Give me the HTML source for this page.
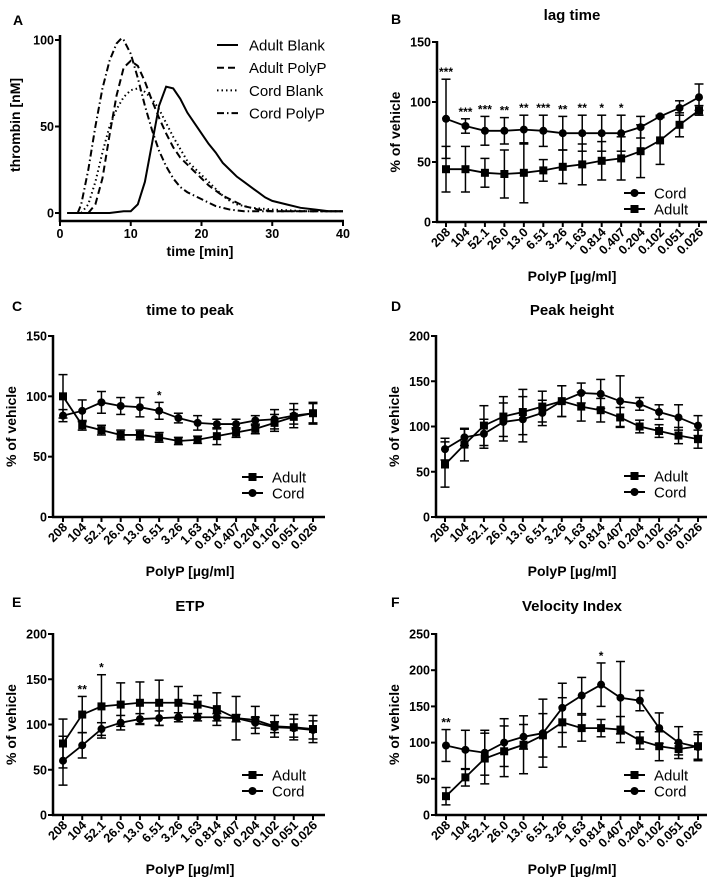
<!DOCTYPE html>
<html><head><meta charset="utf-8"><style>
html,body{margin:0;padding:0;background:#fff;}
svg{display:block;font-family:"Liberation Sans",Arial,sans-serif;}
text{font-weight:bold;fill:#000;}
</style></head><body>
<svg id="fig" width="714" height="886" viewBox="0 0 714 886"></svg>
<script>
const NS="http://www.w3.org/2000/svg";
const svg=document.getElementById('fig');
// shared categories
const categories=["208","104","52.1","26.0","13.0","6.51","3.26","1.63","0.814","0.407","0.204","0.102","0.051","0.026"];
// Panel A curves
const aTicksX=[0,10,20,30,40];
const aTicksY=[0,50,100];
const adultBlankT=[1,3,5,7,9,10,11,12,13,14,15,16,17,18,19,20,21,22,23,24,25,26,27,28,29,30,32,34,36,38,40];
const adultBlankV=[0,0,0,0,1,1,5,18,40,62,73,72,66,58,52,46,40,35,29,25,21,18,15,12,9,7,5,3,2,1,1];
const adultPolyPT=[4,5,6,7,8,9,10,11,12,13,14,15,16,17,18,19,20,21,22,23,24,25,26,28,30,35,40];
const adultPolyPV=[0,5,20,45,68,84,88,85,76,65,55,46,38,32,28,24,20,16,13,10,8,6,4,2,1,1,1];
const cordBlankT=[3,4,5,6,7,8,9,10,11,12,13,14,15,16,17,18,19,20,21,22,23,24,25,27,30,35,40];
const cordBlankV=[0,5,18,35,50,60,67,71,72,70,66,60,52,44,37,30,26,22,18,14,10,7,5,3,2,1,1];
const cordPolyPT=[2.5,3,4,5,6,7,8,8.7,9,10,11,12,13,14,15,16,17,18,19,20,21,22,24,26,30,40];
const cordPolyPV=[0,5,25,50,72,88,98,101,100,92,78,62,48,36,27,20,15,12,10,8,6,4,2,1,1,1];
// Panel B lag time
const bCord=[86,80,76,76,77,76,74,74,74,74,79,88,95,104];
const bCordErr=[33,6,12,11,12,13,14,15,15,15,9,1,6,11];
const bAdult=[44,44,41,40,41,43,46,48,51,53,59,68,81,93];
const bAdultErr=[19,19,12,20,25,9,14,17,16,18,22,20,10,4];
const bStars=["***","***","***","**","**","***","**","**","*","*","","","",""];
// Panel C time to peak
const cAdult=[100,76,72,68,68,66,63,64,67,70,73,78,83,86];
const cAdultErr=[18,4,4,4,4,4,3,3,7,4,4,7,6,9];
const cCord=[84,88,95,92,91,88,82,78,77,77,80,81,84,86];
const cCordErr=[5,9,9,7,8,7,4,6,4,4,4,8,10,8];
const cStars=["","","","","","*","","","","","","","",""];
// Panel D peak height
const dAdult=[58,80,101,111,116,122,128,122,118,110,100,95,90,86];
const dAdultErr=[25,18,22,22,25,17,17,16,13,11,7,7,9,10];
const dCord=[75,88,92,105,108,115,128,137,136,128,125,116,110,101];
const dCordErr=[12,9,16,21,25,14,17,11,16,28,7,8,14,11];
// Panel E ETP
const eAdult=[79,111,120,122,124,124,124,122,117,107,105,98,97,95];
const eAdultErr=[27,20,35,24,23,25,18,10,18,24,15,12,14,15];
const eCord=[60,77,95,102,106,107,108,108,108,107,102,97,96,94];
const eCordErr=[27,14,7,8,6,8,5,4,4,4,6,6,10,10];
const eStars=["","**","*","","","","","","","","","","",""];
// Panel F velocity index
const fAdult=[26,52,78,88,97,110,128,120,120,118,103,95,91,95];
const fAdultErr=[12,12,35,35,40,30,34,18,12,18,12,20,8,20];
const fCord=[96,90,86,100,108,113,148,165,180,162,158,120,100,94];
const fCordErr=[22,27,31,33,17,47,34,25,30,50,14,21,22,17];
const fStars=["**","","","","","","","","*","","","","",""];

function el(tag,attrs,parent){const e=document.createElementNS(NS,tag);for(const k in attrs)e.setAttribute(k,attrs[k]);(parent||svg).appendChild(e);return e;}
function txt(s,attrs,parent){const e=el('text',attrs,parent);e.textContent=s;return e;}

function marker(g,type,x,y){
  if(type==='circle')return el('circle',{cx:x,cy:y,r:4,fill:'#000'},g);
  return el('rect',{x:x-4,y:y-4,width:8,height:8,fill:'#000'},g);
}

function panel(o){
  const g=el('g',{});
  
  
  const yS=v=>o.y0-(v/o.ymax)*(o.y0-o.yTop);
  const xS=i=>o.x0+i*(o.x1-o.x0)/(categories.length-1);
  const lt=txt(o.letter,{x:o.letterX,y:o.letterY,'font-size':14},g);
  
  const tt=txt(o.title,{x:o.titleX,y:o.titleY,'font-size':15,'text-anchor':'middle'},g);
  
  const ya=el('line',{x1:o.ax,y1:o.yTop-1,x2:o.ax,y2:o.y0+1,stroke:'#000','stroke-width':2.5},g);
  
  const xa=el('line',{x1:o.ax-1,y1:o.y0,x2:o.axEnd,y2:o.y0,stroke:'#000','stroke-width':2.5},g);
  
  o.yticks.forEach(v=>{
    el('line',{x1:o.ax-5,y1:yS(v),x2:o.ax,y2:yS(v),stroke:'#000','stroke-width':2},g);
    const t=txt(String(v),{x:o.ax-6,y:yS(v)+4.5,'font-size':12.5,'text-anchor':'end'},g);
    
  });
  categories.forEach((c,i)=>{
    const x=xS(i);
    el('line',{x1:x,y1:o.y0,x2:x,y2:o.y0+5,stroke:'#000','stroke-width':2},g);
    const t=txt(c,{x:0,y:0,'font-size':12.5,'text-anchor':'end',transform:`translate(${x+5},${o.y0+11}) rotate(-45)`},g);
    
  });
  const xt=txt('PolyP [µg/ml]',{x:o.titleX,y:o.y0+59,'font-size':14,'text-anchor':'middle'},g);
  
  const yc=(o.yTop+o.y0)/2;
  const yt=txt('% of vehicle',{x:0,y:0,'font-size':14,'text-anchor':'middle',transform:`translate(${o.ax-37},${yc}) rotate(-90)`},g);
  
  o.series.forEach(s=>{
    const sg=el('g',{},g);
    
    
    el('polyline',{points:s.vals.map((v,i)=>xS(i)+','+yS(v)).join(' '),fill:'none',stroke:'#000','stroke-width':1.8},sg);
    s.vals.forEach((v,i)=>{
      const x=xS(i),e=s.err[i];
      el('line',{x1:x,y1:yS(v+e),x2:x,y2:yS(v-e),stroke:'#000','stroke-width':1.5},sg);
      el('line',{x1:x-4.5,y1:yS(v+e),x2:x+4.5,y2:yS(v+e),stroke:'#000','stroke-width':1.5},sg);
      el('line',{x1:x-4.5,y1:yS(v-e),x2:x+4.5,y2:yS(v-e),stroke:'#000','stroke-width':1.5},sg);
      const m=marker(sg,s.marker,x,yS(v));
      
      
    });
  });
  if(o.stars){o.stars.forEach((s,i)=>{if(!s)return;
    const top=Math.max(...o.series.map(se=>se.vals[i]+se.err[i]));
    const t=txt(s,{x:xS(i),y:yS(top)-3,'font-size':12,'text-anchor':'middle'},g);
    
  });}
  o.series.forEach((s,k)=>{
    const ly=o.legY+k*16;
    const lg=el('g',{},g);
    
    
    el('line',{x1:o.legX,y1:ly,x2:o.legX+21,y2:ly,stroke:'#000','stroke-width':2},lg);
    marker(lg,s.marker,o.legX+10.5,ly);
    txt(s.label,{x:o.legX+30,y:ly+5.5,'font-size':15,style:'font-weight:normal'},lg);
  });
}

// Panel A
(function(){
  const g=el('g',{});
  
  
  const X0=60,X1=343,Y0=213,Y100=40;
  const xS=t=>X0+t/40*(X1-X0);
  const yS=v=>Y0-v/100*(Y0-Y100);
  txt('A',{x:13,y:25,'font-size':14},g);
  el('line',{x1:X0,y1:35,x2:X0,y2:222,stroke:'#000','stroke-width':2.5},g);
  el('line',{x1:X0-1,y1:221,x2:X1+1,y2:221,stroke:'#000','stroke-width':2.5},g);
  aTicksY.forEach(v=>{el('line',{x1:X0-5,y1:yS(v),x2:X0,y2:yS(v),stroke:'#000','stroke-width':2},g);
    const t=txt(String(v),{x:X0-6,y:yS(v)+4.5,'font-size':12.5,'text-anchor':'end'},g);
    });
  aTicksX.forEach(v=>{el('line',{x1:xS(v),y1:221,x2:xS(v),y2:226,stroke:'#000','stroke-width':2},g);
    const t=txt(String(v),{x:xS(v),y:238,'font-size':12.5,'text-anchor':'middle'},g);
    });
  const xt=txt('time [min]',{x:200,y:256,'font-size':14,'text-anchor':'middle'},g);
  
  const yt=txt('thrombin [nM]',{x:0,y:0,'font-size':14,'text-anchor':'middle',transform:'translate(20,125) rotate(-90)'},g);
  
  const curves=[
    ['Adult Blank',adultBlankT,adultBlankV,''],
    ['Adult PolyP',adultPolyPT,adultPolyPV,'7 4'],
    ['Cord Blank',cordBlankT,cordBlankV,'1.5 3'],
    ['Cord PolyP',cordPolyPT,cordPolyPV,'7 3 1.5 3']];
  curves.forEach((c,k)=>{
    const p=el('polyline',{points:c[1].map((t,i)=>xS(t)+','+yS(c[2][i])).join(' '),fill:'none',stroke:'#000','stroke-width':2,'stroke-dasharray':c[3]},g);
    
    
    const ly=45+k*22.7;
    const lg=el('g',{},g);
    
    
    el('line',{x1:217,y1:ly,x2:238,y2:ly,stroke:'#000','stroke-width':2,'stroke-dasharray':c[3]},lg);
    txt(c[0],{x:249,y:ly+5.5,'font-size':15,style:'font-weight:normal'},lg);
  });
})();

panel({name:'panel-b-lag-time',letter:'B',letterX:391,letterY:24,title:'lag time',titleX:572,titleY:20,
  ax:437,axEnd:707,x0:446,x1:699,y0:222,yTop:42,ymax:150,yticks:[0,50,100,150],
  series:[{label:'Cord',vals:bCord,err:bCordErr,marker:'circle'},{label:'Adult',vals:bAdult,err:bAdultErr,marker:'square'}],
  stars:bStars,legX:624,legY:193});
panel({name:'panel-c-time-to-peak',letter:'C',letterX:12,letterY:311,title:'time to peak',titleX:190,titleY:315,
  ax:53,axEnd:325,x0:63,x1:313,y0:517,yTop:336,ymax:150,yticks:[0,50,100,150],
  series:[{label:'Adult',vals:cAdult,err:cAdultErr,marker:'square'},{label:'Cord',vals:cCord,err:cCordErr,marker:'circle'}],
  stars:cStars,legX:242,legY:477});
panel({name:'panel-d-peak-height',letter:'D',letterX:391,letterY:311,title:'Peak height',titleX:572,titleY:315,
  ax:436,axEnd:707,x0:445,x1:698,y0:517,yTop:336,ymax:200,yticks:[0,50,100,150,200],
  series:[{label:'Adult',vals:dAdult,err:dAdultErr,marker:'square'},{label:'Cord',vals:dCord,err:dCordErr,marker:'circle'}],
  legX:624,legY:476});
panel({name:'panel-e-etp',letter:'E',letterX:12,letterY:607,title:'ETP',titleX:190,titleY:611,
  ax:53,axEnd:325,x0:63,x1:313,y0:815,yTop:634,ymax:200,yticks:[0,50,100,150,200],
  series:[{label:'Adult',vals:eAdult,err:eAdultErr,marker:'square'},{label:'Cord',vals:eCord,err:eCordErr,marker:'circle'}],
  stars:eStars,legX:242,legY:775});
panel({name:'panel-f-velocity-index',letter:'F',letterX:391,letterY:607,title:'Velocity Index',titleX:572,titleY:611,
  ax:436,axEnd:707,x0:446,x1:698,y0:815,yTop:634,ymax:250,yticks:[0,50,100,150,200,250],
  series:[{label:'Adult',vals:fAdult,err:fAdultErr,marker:'square'},{label:'Cord',vals:fCord,err:fCordErr,marker:'circle'}],
  stars:fStars,legX:624,legY:775});
</script>
</body></html>
